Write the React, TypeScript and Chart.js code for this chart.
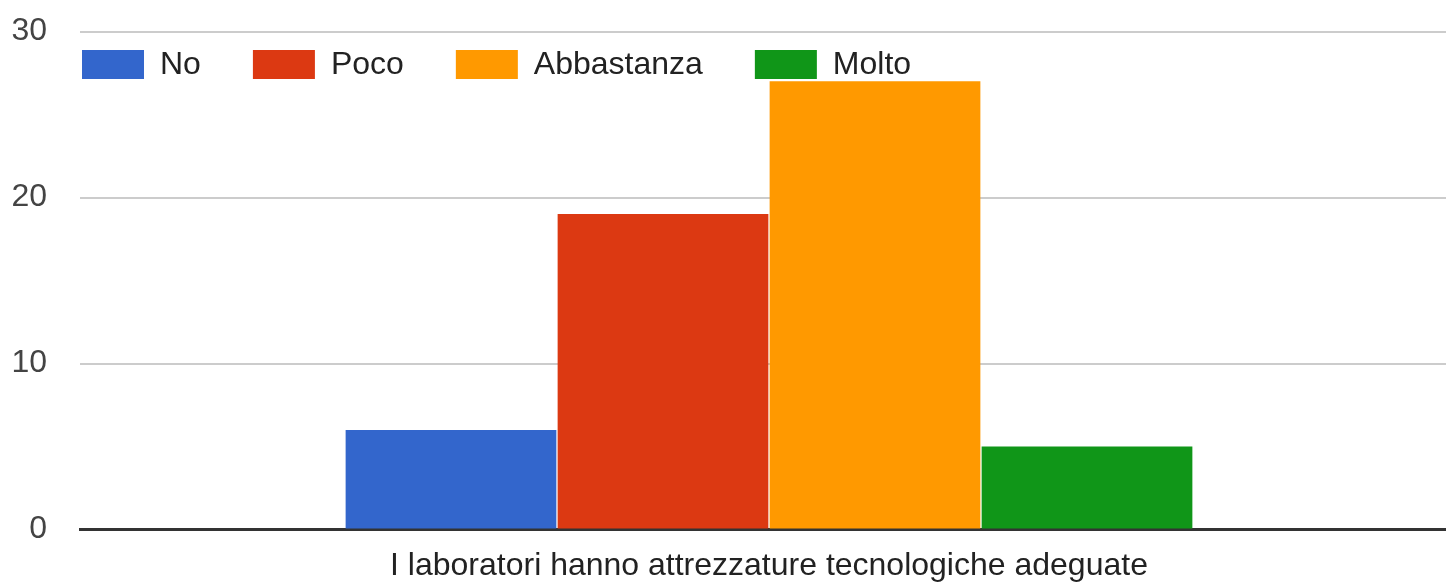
import React, { useEffect, useRef } from "react";
import { Chart, registerables } from "chart.js";

Chart.register(...registerables);

const categories = ["I laboratori hanno attrezzature tecnologiche adeguate"];
const seriesNames = ["No", "Poco", "Abbastanza", "Molto"];
const seriesValues = [[6], [19], [27], [5]];
const seriesColors = ["#3366cc", "#dc3912", "#ff9900", "#109618"];
const yTicks = [0, 10, 20, 30];

const FONT = '"Liberation Sans", Arial, sans-serif';

const legendPlugin = {
  id: "gLegend",
  afterDraw(chart: any) {
    const { ctx, chartArea } = chart;
    ctx.save();
    ctx.font = `32px ${FONT}`;
    ctx.textBaseline = "middle";
    ctx.textAlign = "left";
    let x = chartArea.left + 2;
    const y = chartArea.top + 18.5;
    const bw = 62;
    const bh = 29;
    chart.data.datasets.forEach((ds: any) => {
      ctx.fillStyle = ds.backgroundColor;
      ctx.fillRect(x, y, bw, bh);
      ctx.fillStyle = "#222222";
      ctx.fillText(ds.label, x + bw + 16, y + bh / 2 + 1);
      x += bw + 16 + ctx.measureText(ds.label).width + 52;
    });
    ctx.restore();
  },
};

export default function App() {
  const canvasRef = useRef<HTMLCanvasElement | null>(null);

  useEffect(() => {
    const canvas = canvasRef.current;
    if (!canvas) return;
    const chart = new Chart(canvas, {
      type: "bar",
      data: {
        labels: categories,
        datasets: seriesNames.map((name, i) => ({
          label: name,
          data: seriesValues[i],
          backgroundColor: seriesColors[i],
          borderWidth: 0,
          categoryPercentage: 0.6154,
          barPercentage: 0.994,
        })),
      },
      options: {
        animation: false,
        responsive: true,
        maintainAspectRatio: false,
        layout: { padding: { top: 31.5, left: 0, right: 0, bottom: 0 } },
        plugins: {
          legend: { display: false },
          tooltip: { enabled: false },
          title: { display: false },
        },
        scales: {
          x: {
            z: 1,
            grid: { display: false, drawTicks: false },
            border: { display: true, color: "#333333", width: 3 },
            ticks: {
              color: "#222222",
              font: { family: FONT, size: 32 },
              padding: 17,
              maxRotation: 0,
              autoSkip: false,
            },
            afterFit: (scale: any) => {
              scale.height = 54.5;
              scale.paddingTop = 0;
              scale.paddingBottom = 0;
              scale.paddingLeft = 0;
              scale.paddingRight = 0;
            },
          },
          y: {
            min: yTicks[0],
            max: yTicks[yTicks.length - 1],
            afterBuildTicks: (scale: any) => {
              scale.ticks = yTicks.map((v) => ({ value: v }));
            },
            grid: {
              drawTicks: false,
              color: (c: any) => (c.tick && c.tick.value === 0 ? "rgba(0,0,0,0)" : "#cccccc"),
              lineWidth: 2,
            },
            border: { display: false },
            ticks: {
              color: "#444444",
              font: { family: FONT, size: 32 },
              padding: 33,
            },
            afterFit: (scale: any) => {
              scale.width = 80;
              scale.paddingTop = 0;
              scale.paddingBottom = 0;
              scale.paddingLeft = 0;
              scale.paddingRight = 0;
            },
          },
        },
      },
      plugins: [legendPlugin],
    });
    return () => chart.destroy();
  }, []);

  return (
    <div
      style={{
        position: "fixed",
        left: 0,
        top: 0,
        width: 1446,
        height: 584,
        overflow: "hidden",
        background: "#ffffff",
      }}
    >
      <div style={{ position: "relative", width: 1458, height: 584 }}>
        <canvas ref={canvasRef} />
      </div>
    </div>
  );
}
